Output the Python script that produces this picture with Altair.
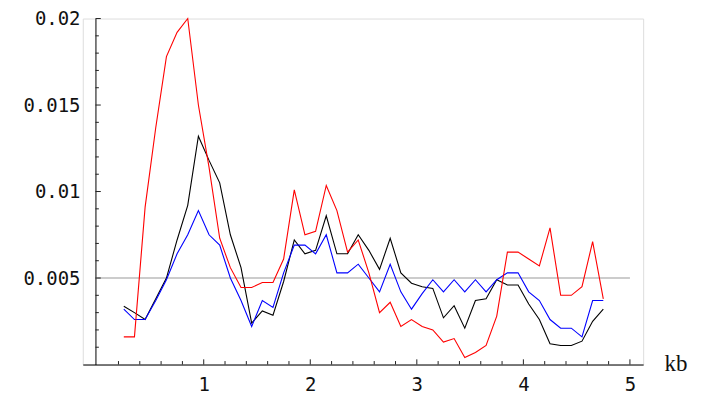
import altair as alt
import pandas as pd

# sample positions (kb)
kb = [0.25, 0.35, 0.45, 0.55, 0.65, 0.75, 0.85, 0.95, 1.05, 1.15,
      1.25, 1.35, 1.45, 1.55, 1.65, 1.75, 1.85, 1.95, 2.05, 2.15,
      2.25, 2.35, 2.45, 2.55, 2.65, 2.75, 2.85, 2.95, 3.05, 3.15,
      3.25, 3.35, 3.45, 3.55, 3.65, 3.75, 3.85, 3.95, 4.05, 4.15,
      4.25, 4.35, 4.45, 4.55, 4.65, 4.75]

red = [0.0016, 0.0016, 0.0091, 0.0137, 0.0178, 0.0192, 0.0200, 0.0150, 0.0114, 0.0073,
       0.0056, 0.00445, 0.00445, 0.00474, 0.00474, 0.0061, 0.0101, 0.0075, 0.0077, 0.01035,
       0.0089, 0.0065, 0.0072, 0.0053, 0.0030, 0.0036, 0.0022, 0.0026, 0.0022, 0.0020,
       0.0013, 0.0015, 0.0004, 0.0007, 0.0011, 0.0028, 0.0065, 0.0065, 0.0061, 0.0057,
       0.0079, 0.0040, 0.0040, 0.0045, 0.0071, 0.0038]

black = [0.00337, 0.0030, 0.0026, 0.0038, 0.0050, 0.0072, 0.0092, 0.0132, 0.0118, 0.0105,
         0.0075, 0.0056, 0.0024, 0.0031, 0.00285, 0.0048, 0.0072, 0.0064, 0.0066, 0.0086,
         0.0064, 0.0064, 0.0075, 0.0066, 0.0055, 0.0073, 0.0053, 0.0047, 0.0045, 0.0044,
         0.0027, 0.0034, 0.0021, 0.0037, 0.0038, 0.0049, 0.0046, 0.0046, 0.0035, 0.0026,
         0.0012, 0.0011, 0.0011, 0.00135, 0.0025, 0.0032]

blue = [0.0032, 0.0026, 0.0026, 0.0037, 0.0049, 0.0064, 0.0075, 0.0089, 0.0075, 0.0069,
        0.0050, 0.0037, 0.0022, 0.0037, 0.0033, 0.0053, 0.0069, 0.0069, 0.0064, 0.0075,
        0.0053, 0.0053, 0.0058, 0.0050, 0.0042, 0.0058, 0.0042, 0.0032, 0.0041, 0.0049,
        0.0042, 0.0049, 0.0042, 0.0049, 0.0042, 0.0049, 0.0053, 0.0053, 0.0042, 0.0037,
        0.0026, 0.0021, 0.0021, 0.0016, 0.0037, 0.0037]

ref_level = 0.005
ref_x = [0, 5]

x_major = [1, 2, 3, 4, 5]
x_minor = [0.2, 0.4, 0.6, 0.8, 1.2, 1.4, 1.6, 1.8, 2.2, 2.4, 2.6, 2.8,
           3.2, 3.4, 3.6, 3.8, 4.2, 4.4, 4.6, 4.8]
y_major = [0.005, 0.01, 0.015, 0.02]
y_minor = [0.001, 0.002, 0.003, 0.004, 0.006, 0.007, 0.008, 0.009,
           0.011, 0.012, 0.013, 0.014, 0.016, 0.017, 0.018, 0.019]

X_DOMAIN = [-0.135, 5.124]
Y_DOMAIN = [0, 0.02]
Y_AXIS_AT = -0.016

FONT = "DejaVu Sans Mono"

xs = alt.Scale(domain=X_DOMAIN, nice=False, zero=False)
ys = alt.Scale(domain=Y_DOMAIN, nice=False, zero=False)

x_axis = alt.Axis(values=x_major, format="d", ticks=False, tickSize=0, grid=False,
                  domainColor="#000000", domainWidth=1,
                  labelFont=FONT, labelFontSize=19, labelColor="#111111",
                  labelPadding=11, labelFlush=False, labelOverlap=False,
                  title="kb", titleFont="Liberation Serif", titleFontSize=23,
                  titleFontWeight="normal", titleColor="#111111", titleAngle=0,
                  titleAlign="left", titleBaseline="alphabetic", titleX=583, titleY=6)
y_axis = alt.Axis(values=y_major, format="~g", ticks=False, tickSize=0, grid=False,
                  domainColor="#000000", domainWidth=1, offset=-12.7,
                  labelFont=FONT, labelFontSize=19, labelColor="#111111",
                  labelPadding=15.5, labelFlush=False, labelOverlap=False, title=None)

df = pd.DataFrame({"kb": kb, "red": red, "black": black, "blue": blue})

base = alt.Chart(df)

def series(col, color):
    return base.mark_line(color=color, strokeWidth=1.1, clip=False).encode(
        x=alt.X("kb:Q", scale=xs, axis=x_axis),
        y=alt.Y(f"{col}:Q", scale=ys, axis=y_axis),
    )

ref = alt.Chart(pd.DataFrame({"x": [ref_x[0]], "x2": [ref_x[1]], "y": [ref_level]})).mark_rule(
    color="#999999", strokeWidth=1.2).encode(
    x=alt.X("x:Q", scale=xs), x2="x2:Q", y=alt.Y("y:Q", scale=ys))

def xticks(vals, length):
    return alt.Chart(pd.DataFrame({"t": vals})).mark_rule(color="#222222", strokeWidth=1).encode(
        x=alt.X("t:Q", scale=xs), y=alt.YDatum(0), y2=alt.datum(length))

def yticks(vals, length):
    return alt.Chart(pd.DataFrame({"t": vals})).mark_rule(color="#222222", strokeWidth=1).encode(
        y=alt.Y("t:Q", scale=ys), x=alt.XDatum(Y_AXIS_AT), x2=alt.datum(Y_AXIS_AT + length))

chart = alt.layer(
    ref,
    xticks(x_major, 0.0003), xticks(x_minor, 0.0002),
    yticks(y_major, 0.05), yticks(y_minor, 0.032),
    series("black", "#000000"),
    series("blue", "#0000ff"),
    series("red", "#ff0000"),
).properties(
    width=562, height=347,
    autosize=alt.AutoSizeParams(type="none"),
    padding={"left": 75, "top": 10, "right": 50, "bottom": 30},
).configure_view(stroke=None).configure(background="white")

chart.save("out.html", embed_options={"renderer": "svg", "actions": False})
